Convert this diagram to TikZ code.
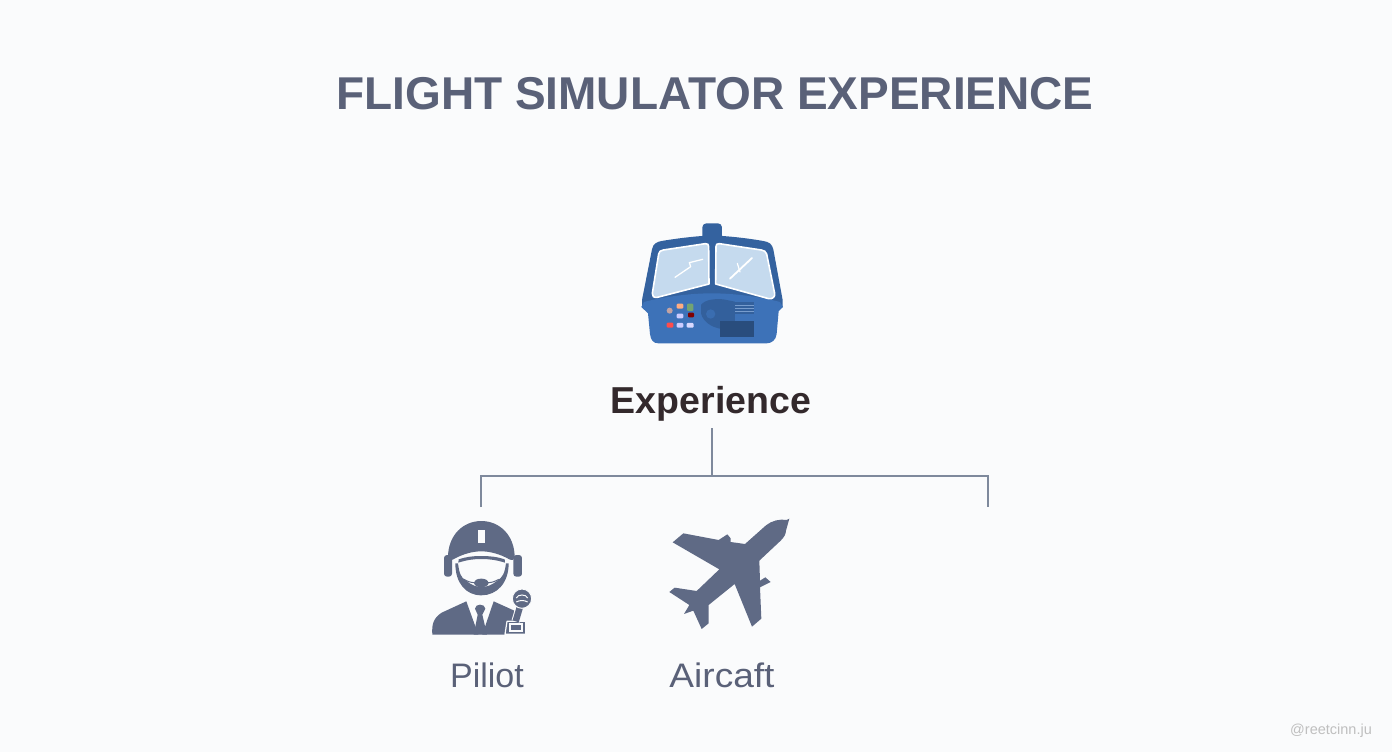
\documentclass[tikz,border=0pt]{standalone}
\usepackage{fontspec}
\usepackage{graphicx}
\setmainfont{Liberation Sans}
\definecolor{bgc}{HTML}{FAFBFC}
\definecolor{slate}{HTML}{5F6A85}
\definecolor{titlec}{HTML}{5A6178}
\definecolor{dark}{HTML}{33292C}
\definecolor{linec}{HTML}{7E899C}
\definecolor{navy}{HTML}{34629F}
\definecolor{blue2}{HTML}{3D72B8}
\definecolor{glass}{HTML}{C5DAEE}
\definecolor{deep}{HTML}{33609C}
\tikzset{
 titlet/.style={font=\bfseries\fontsize{46}{50}\selectfont,text=titlec,inner sep=0},
 headt/.style={font=\bfseries\fontsize{37.5}{40}\selectfont,text=dark,inner sep=0},
 leaf/.style={font=\fontsize{34}{36}\selectfont,text=titlec,inner sep=0},
 wm/.style={font=\fontsize{14.5}{16}\selectfont,text=black!25,inner sep=0},
 link/.style={draw=linec,line width=2pt},
 btn/.style={rounded corners=1pt},
}
\begin{document}
\begin{tikzpicture}[x=1pt,y=-1pt]
\useasboundingbox (0,0) rectangle (1392,752);
\fill[bgc] (0,0) rectangle (1392,752);
\node[titlet] (title) at (715,94) {FLIGHT SIMULATOR EXPERIENCE};
\node[headt] (exp) at (711,404) {Experience};
\node[leaf] (pilotl) at (487,675) {Piliot};
\node[leaf] (aircl) at (722,675) {\scalebox{1.09}[1]{Aircaft}};
\node[wm] (mark) at (1331,731) {@reetcinn.ju};
% connectors
\coordinate (trunk) at (712,428);
\coordinate (bus) at (712,476);
\coordinate (dl) at (481,507);
\coordinate (dr) at (988,507);
\draw[link] (trunk) -- (bus);
\draw[link] (dl) |- (bus) -| (dr);
% cockpit icon
\begin{scope}[shift={(620,210)},x=0.3333pt,y=-0.3333pt]
\fill[navy,rounded corners=4pt] (247,100) -- (247,40) -- (306,40) -- (306,100) -- cycle;
\fill[navy] (66,270) -- (96,118) .. controls (100,100) and (110,96) .. (125,93) .. controls (190,82) and (240,78) .. (276,76) .. controls (320,78) and (380,84) .. (430,93) .. controls (448,96) and (456,102) .. (460,118) -- (488,270) -- (488,292) -- (66,292) -- cycle;
\fill[blue2] (64,291) -- (72,276) .. controls (140,258) and (220,250) .. (275,250) .. controls (340,250) and (420,260) .. (480,276) -- (489,291) -- (476,304) -- (470,372) .. controls (468,390) and (455,400) .. (440,400) -- (115,400) .. controls (100,400) and (92,390) .. (90,372) -- (84,310) -- cycle;
\filldraw[fill=glass,draw=white,line width=1.6pt,line join=round] (130,120) -- (256,101) .. controls (263,100) and (266,104) .. (266,110) -- (267,222) -- (112,262) .. controls (102,264) and (95,258) .. (97,250) -- (116,132) .. controls (117,125) and (122,121) .. cycle;
\filldraw[fill=glass,draw=white,line width=1.6pt,line join=round] (424,120) -- (298,101) .. controls (291,100) and (288,104) .. (288,110) -- (287,222) -- (446,266) .. controls (458,268) and (466,260) .. (464,250) -- (440,132) .. controls (438,125) and (432,121) .. cycle;
\draw[white,line width=1.3pt,line cap=round,line join=round] (165,202) -- (212,170) -- (208,158) -- (248,148);
\draw[white,line width=1.8pt,line cap=round] (330,206) -- (396,144);
\draw[white,line width=1.2pt,line cap=round] (352,160) -- (360,186);
% panel
\fill[deep] (243,285) .. controls (255,268) and (285,266) .. (310,268) -- (345,275) -- (345,345) -- (320,358) .. controls (285,358) and (250,340) .. (243,310) -- cycle;
\fill[blue2!70!deep] (272,312) circle[radius=14];
\fill[deep] (345,276) rectangle (402,312);
\foreach \yy in {285,294,303}{\draw[blue2!70!white,line width=0.5pt] (345,\yy) -- (402,\yy);}
\fill[deep!80!black] (300,332) rectangle (403,382);
\fill[btn,fill=red!30!orange!50!white] (170,281) rectangle (190,296);
\fill[btn,fill=green!35!black!55!white] (201,281) rectangle (220,303);
\fill[btn,fill=white!80!blue] (170,311) rectangle (190,325);
\fill[btn,fill=red!50!black] (204,308) rectangle (222,322);
\fill[btn,fill=red!60!pink] (140,338) rectangle (160,353);
\fill[btn,fill=white!80!blue] (170,339) rectangle (190,353);
\fill[btn,fill=white!85!blue] (200,339) rectangle (221,353);
\fill[red!20!gray!60!white] (149,302) circle[radius=9];
\end{scope}
% pilot head
\begin{scope}[shift={(440,540)},x=0.3333pt,y=-0.3333pt]
\fill[slate,rounded corners=3pt] (12,45) rectangle (36,110);
\fill[slate,rounded corners=3pt] (220,45) rectangle (246,110);
\fill[slate] (24,52) .. controls (24,-15) and (70,-57) .. (124,-57) .. controls (178,-57) and (224,-15) .. (224,52) .. controls (224,60) and (216,62) .. (208,58) .. controls (180,42) and (150,34) .. (124,34) .. controls (98,34) and (68,42) .. (40,58) .. controls (32,62) and (24,60) .. (24,52) -- cycle;
\fill[bgc] (113,-30) rectangle (134,9);
\fill[slate] (55,68) -- (56,58) .. controls (80,50) and (100,48) .. (124,48) .. controls (148,48) and (170,50) .. (194,58) -- (195,68) .. controls (170,60) and (148,57) .. (124,57) .. controls (100,57) and (80,60) .. (55,68) -- cycle;
\fill[slate] (46,70) -- (54,70) .. controls (58,100) and (62,112) .. (78,122) .. controls (95,136) and (110,141) .. (124,141) .. controls (140,141) and (155,136) .. (172,122) .. controls (188,112) and (194,100) .. (198,70) -- (206,70) .. controls (206,130) and (170,166) .. (124,166) .. controls (78,166) and (46,130) .. (46,70) -- cycle;
\fill[slate] (102,129) .. controls (104,119) and (114,116) .. (124,116) .. controls (134,116) and (144,119) .. (146,129) .. controls (144,138) and (134,142) .. (124,142) .. controls (114,142) and (104,138) .. (102,129) -- cycle;
\draw[slate,line width=1pt] (72,118) .. controls (82,124) and (92,128) .. (104,128);
\draw[slate,line width=1pt] (176,118) .. controls (166,124) and (156,128) .. (144,128);
\end{scope}
% pilot body
\begin{scope}[shift={(425,590)},x=0.3333pt,y=-0.3333pt]
\fill[slate] (22,134) .. controls (20,105) and (24,85) .. (50,68) -- (124,34) -- (160,134) -- (172,134) -- (206,34) -- (268,62) -- (300,134) -- cycle;
\fill[slate] (150,56) .. controls (150,48) and (158,44) .. (165,44) .. controls (173,44) and (181,48) .. (181,56) -- (172,74) -- (186,134) -- (146,134) -- (158,74) -- cycle;
\draw[draw=bgc,fill=slate,line width=1.2pt,line join=round] (246,94) -- (302,94) -- (302,133) -- (240,133) -- cycle;
\fill[bgc] (252,100) rectangle (295,126);
\fill[slate] (258,106) rectangle (288,120);
\draw[bgc,line width=8.5pt] (288,40) -- (272,94);
\draw[slate,line width=6.5pt] (288,40) -- (272,94);
\filldraw[fill=slate,draw=bgc,line width=1pt] (291,26) circle[radius=29];
\draw[bgc,line width=1pt] (274,24) .. controls (278,12) and (304,12) .. (308,24) (274,36) .. controls (284,30) and (298,30) .. (308,36);
\end{scope}
% aircraft icon
\begin{scope}[shift={(660,510)},x=0.3333pt,y=-0.3333pt]
\fill[slate,line join=round] (388,26) -- (380,30) .. controls (360,26) and (335,32) .. (318,46) -- (255,102) -- (212,96) -- (212,85) -- (202,73) -- (176,90) -- (70,70) -- (38,97) -- (178,178) -- (110,243) -- (44,233) -- (28,246) -- (88,285) -- (72,312) -- (100,302) -- (125,357) -- (146,340) -- (146,285) -- (224,222) -- (276,350) -- (304,326) -- (300,232) -- (332,216) -- (316,202) -- (300,212) -- (298,152) -- (362,92) .. controls (372,82) and (378,72) .. (378,62) -- cycle;
\end{scope}
\end{tikzpicture}
\end{document}
